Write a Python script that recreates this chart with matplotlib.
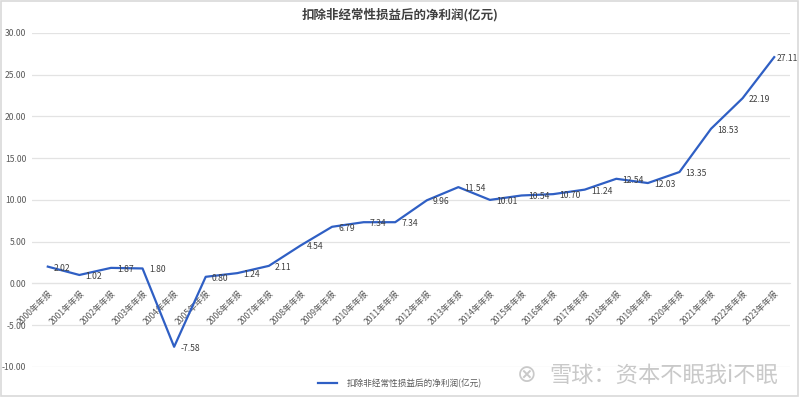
import matplotlib
matplotlib.use('Agg')
import matplotlib.pyplot as plt
from matplotlib.patches import Rectangle

plt.rcParams['font.family'] = ['Noto Sans CJK SC', 'DejaVu Sans']

# data
years = [f'{y}年年报' for y in range(2000, 2024)]
profit = [2.02, 1.02, 1.87, 1.80, -7.58, 0.80, 1.24, 2.11, 4.54, 6.79, 7.34, 7.34,
          9.96, 11.54, 10.01, 10.54, 10.70, 11.24, 12.54, 12.03, 13.35, 18.53, 22.19, 27.11]
y_ticks = [-10, -5, 0, 5, 10, 15, 20, 25, 30]
title = '扣除非经常性损益后的净利润(亿元)'

line_color = '#2F5FC4'
text_grey = '#595959'

fig = plt.figure(figsize=(8, 3.97), dpi=100)
ax = fig.add_axes([0.04, 0.0756, 0.9475, 0.8413])

x = list(range(len(years)))
ax.plot(x, profit, color=line_color, linewidth=1.6, label=title, zorder=3)

for xi, v in zip(x, profit):
    dx = 4.5 if xi < len(x) - 1 else 1.5  # last label squeezed to stay inside
    ax.annotate(f'{v:.2f}', (xi, v), xytext=(dx, -1), textcoords='offset points',
                ha='left', va='center', fontsize=6.2, color='#404040', zorder=4)

ax.set_xlim(-0.5, len(years) - 0.5)
ax.set_ylim(-10, 30)
ax.set_yticks(y_ticks)
ax.set_yticklabels([f'{t:.2f}' for t in y_ticks], fontsize=6.2, color=text_grey)
ax.yaxis.grid(True, color='#e3e3e3', linewidth=0.9)
ax.set_axisbelow(True)

ax.spines['bottom'].set_position(('data', 0))
ax.spines['bottom'].set_color('#e3e3e3')
for s in ['top', 'right', 'left']:
    ax.spines[s].set_visible(False)
ax.set_xticks(x)
ax.set_xticklabels(years, rotation=45, ha='right', rotation_mode='anchor',
                   fontsize=6.2, color=text_grey)
ax.tick_params(axis='x', length=0, pad=4)
ax.tick_params(axis='y', length=0, pad=4)

fig.text(0.5, 0.962, title, ha='center', va='center', fontsize=9,
         fontweight='bold', color='#404040')

leg = fig.legend(loc='center', bbox_to_anchor=(0.5, 0.035), frameon=False,
                 fontsize=6.2, handlelength=2.2, handletextpad=1.2)
for t in leg.get_texts():
    t.set_color(text_grey)

# watermark
fig.text(0.972, 0.055, '雪球：资本不眠我i不眠', ha='right', va='center',
         fontsize=16, color='#c9c9c9', zorder=10)
fig.text(0.658, 0.055, '⊗', ha='center', va='center', fontsize=17,
         color='#c9c9c9', family=['DejaVu Sans'], zorder=10)

fig.patches.append(Rectangle((0.001, 0.002), 0.997, 0.995, transform=fig.transFigure,
                             fill=False, edgecolor='#d9d9d9', linewidth=1.2))

fig.savefig('out.png', dpi=100)
